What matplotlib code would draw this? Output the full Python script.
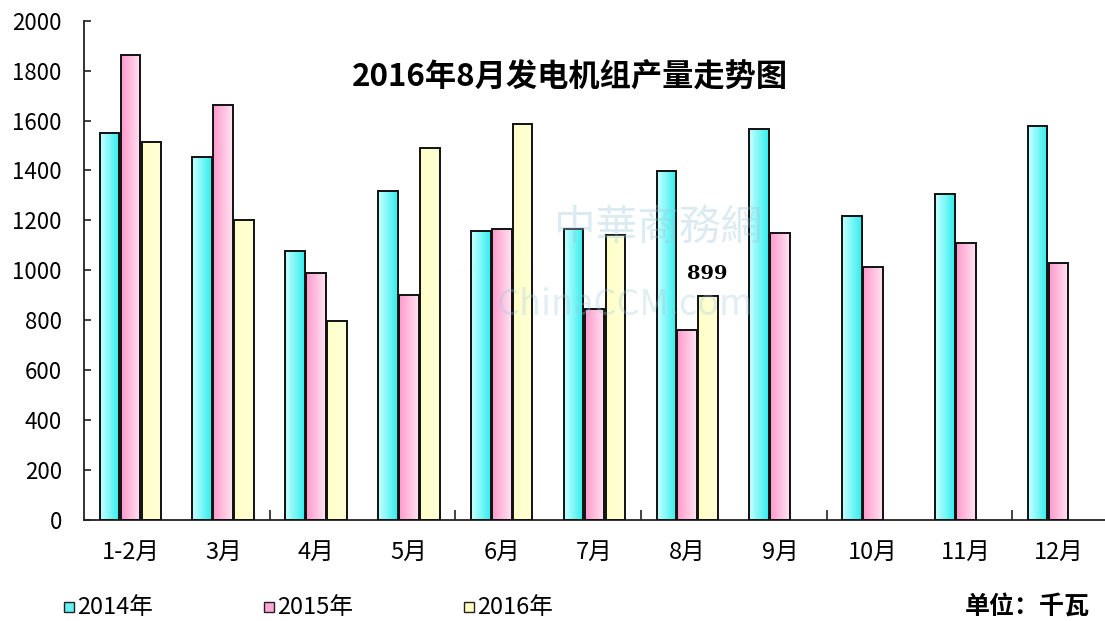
import numpy as np
import matplotlib
matplotlib.use("Agg")
import matplotlib.pyplot as plt
from matplotlib.patches import Rectangle, Circle
from matplotlib.colors import LinearSegmentedColormap

plt.rcParams['font.family'] = ['Noto Sans CJK SC', 'DejaVu Sans']

categories = ['1-2月', '3月', '4月', '5月', '6月', '7月', '8月', '9月', '10月', '11月', '12月']
series_names = ['2014年', '2015年', '2016年']
v2014 = [1551, 1454, 1076, 1316, 1157, 1165, 1399, 1565, 1217, 1307, 1580]
v2015 = [1863, 1664, 991, 900, 1165, 847, 763, 1149, 1013, 1109, 1028]
v2016 = [1513, 1203, 796, 1489, 1587, 1143, 899]
yticks = [0, 200, 400, 600, 800, 1000, 1200, 1400, 1600, 1800, 2000]
title = '2016年8月发电机组产量走势图'
unit_text = '单位：千瓦'
highlight_label = '899'

W, H = 1105, 621
fig = plt.figure(figsize=(W / 100, H / 100), dpi=100)
ax = fig.add_axes([84 / W, 101 / H, (W - 84) / W, 499.3 / H])

grads = [
    ('#c8ffff', '#30eeee'),   # cyan: light -> saturated
    ('#ff99cc', '#ffe4f2'),   # pink: saturated -> light
    ('#ffffc8', '#ffffd6'),   # yellow
]
legend_colors = ['#66f0f0', '#ffa8d4', '#ffffc0']
offsets = [-0.226, 0.0, 0.226]
bw = 0.212
series = [v2014, v2015, v2016]

for si, vals in enumerate(series):
    xs = np.arange(len(vals)) + offsets[si]
    bars = ax.bar(xs, vals, width=bw, facecolor='none', edgecolor='#111111',
                  linewidth=1.4, zorder=3)
    cmap = LinearSegmentedColormap.from_list('g%d' % si, list(grads[si]))
    grad = np.linspace(0, 1, 64).reshape(1, -1)
    for b in bars:
        x0, w, h = b.get_x(), b.get_width(), b.get_height()
        ax.imshow(grad, extent=[x0, x0 + w, 0, h], aspect='auto', cmap=cmap,
                  zorder=2, interpolation='bilinear')
    if si == 2:
        b = bars[6]
        ax.annotate(highlight_label, (b.get_x() + b.get_width() / 2, b.get_height()),
                    xytext=(-1, 9), textcoords='offset points', ha='center', va='bottom',
                    fontsize=14, fontweight='bold', family='DejaVu Serif', zorder=6)

ax.set_xlim(-0.5, len(categories) - 0.5)
ax.set_ylim(0, 2000)
ax.set_yticks(yticks)
ax.set_yticklabels([str(t) for t in yticks], fontsize=16)
ax.set_xticks(np.arange(len(categories)))
ax.set_xticklabels(categories, fontsize=17)
ax.set_xticks([1.5, 3.5, 5.5, 7.5, 9.5], minor=True)
ax.tick_params(axis='x', which='major', length=0, pad=15)
ax.tick_params(axis='x', which='minor', direction='in', length=7, width=1.2, color='#222222')
ax.tick_params(axis='y', direction='in', length=5, width=1.2, pad=16, color='#222222')
for s in ['top', 'right']:
    ax.spines[s].set_visible(False)
for s in ['left', 'bottom']:
    ax.spines[s].set_linewidth(1.3)
    ax.spines[s].set_color('#222222')
ax.set_facecolor('white')

# faint watermark
wm_color = '#9cc7dc'
ax.add_patch(Circle((3.95, 1000), 0.5, transform=ax.transData, facecolor=wm_color,
                    alpha=0.18, edgecolor='none', zorder=5))
fig.text(658 / W, 1 - 228 / H, '中華商務網', fontsize=30, color=wm_color, alpha=0.35,
         ha='center', va='center', zorder=5)
fig.text(625 / W, 1 - 305 / H, 'ChinaCCM.com', fontsize=26, color=wm_color, alpha=0.3,
         ha='center', va='center', zorder=5)

fig.text(570 / W, 1 - 78 / H, title, fontsize=22.5, fontweight='bold',
         ha='center', va='center')

# legend
for i, name in enumerate(series_names):
    x0 = 64 + 200 * i
    fig.patches.append(Rectangle((x0 / W, (H - 612) / H), 10 / W, 10 / H,
                                 transform=fig.transFigure, facecolor=legend_colors[i],
                                 edgecolor='#222222', linewidth=1.0))
    fig.text((x0 + 13) / W, 1 - 607 / H, name, fontsize=17, ha='left', va='center')

fig.text(1090 / W, 1 - 607 / H, unit_text, fontsize=18, fontweight='bold',
         ha='right', va='center')

fig.savefig('out.png', dpi=100, facecolor='white')
